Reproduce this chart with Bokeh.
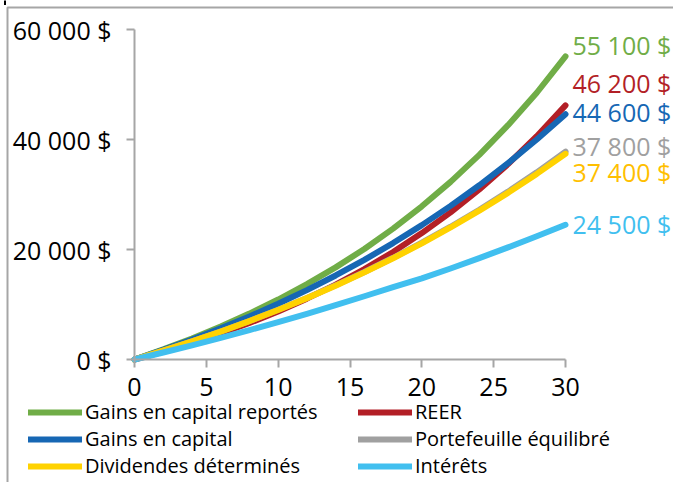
from bokeh.plotting import figure
from bokeh.models import FixedTicker, Legend, LegendItem, Label, BoxAnnotation
from bokeh.embed import file_html
from bokeh.resources import INLINE

# ---- data ----
years = [0, 2, 4, 6, 8, 10, 12, 14, 16, 18, 20, 22, 24, 26, 28, 30]
gains_reportes = [0, 1840, 3830, 6000, 8350, 10900, 13700, 16750, 20100, 23800, 27850, 32300, 37200, 42600, 48500, 55100]
reer = [0, 1425, 2996, 4727, 6637, 8742, 11062, 13621, 16442, 19552, 22981, 26761, 30929, 35524, 40590, 46200]
gains_capital = [0, 1758, 3642, 5659, 7821, 10137, 12617, 15277, 18118, 21170, 24433, 27932, 31680, 35695, 39995, 44600]
portefeuille = [0, 1600, 3295, 5095, 7005, 9035, 11190, 13480, 15910, 18490, 21230, 24140, 27230, 30520, 34030, 37800]
dividendes = [0, 1596, 3288, 5084, 6989, 9011, 11155, 13430, 15843, 18403, 21120, 24002, 27059, 30303, 33744, 37400]
interets = [0, 1267, 2578, 3937, 5347, 6804, 8315, 9880, 11499, 13175, 14750, 16550, 18420, 20380, 22400, 24500]

series_names = ["Gains en capital reportés", "REER", "Gains en capital",
                "Portefeuille équilibré", "Dividendes déterminés", "Intérêts"]
series_values = [gains_reportes, reer, gains_capital, portefeuille, dividendes, interets]
end_labels = ["55 100 $", "46 200 $", "44 600 $", "37 800 $", "37 400 $", "24 500 $"]

x_ticks = [0, 5, 10, 15, 20, 25, 30]
y_ticks = [0, 20000, 40000, 60000]
y_tick_labels = ["0 $", "20 000 $", "40 000 $", "60 000 $"]

# ---- layout / styles ----
W, H = 673, 482
X0_PX, X1_PX = 134, 565      # pixel of x=0 and x=30
Y0_PX, Y1_PX = 359, 29       # pixel of y=0 and y=60000
XMAX, YMAX = 30, 60000
sx = (X1_PX - X0_PX) / XMAX
sy = (Y0_PX - Y1_PX) / YMAX
def px_x(px):
    return (px - X0_PX) / sx
def px_y(py):
    return (Y0_PX - py) / sy

line_colors = ["#70ad47", "#b31f26", "#1667b4", "#a0a0a0", "#ffd200", "#41bfef"]
text_colors = ["#70ad47", "#b31f26", "#1667b4", "#a0a0a0", "#ffbf00", "#41bfef"]
label_dy = [11, 22, 2, 6, -18, 1]
FONT = "Open Sans"
AXIS_GRAY = "#a6a6a6"

p = figure(width=W, height=H, x_range=(px_x(0), px_x(W)), y_range=(px_y(H), px_y(0)),
           output_backend="svg", toolbar_location=None, min_border=0)
p.outline_line_color = None
p.xgrid.visible = False
p.ygrid.visible = False
p.background_fill_color = "white"
p.border_fill_color = "white"

for ax in (p.xaxis[0], p.yaxis[0]):
    ax.fixed_location = 0
    ax.axis_line_color = AXIS_GRAY
    ax.axis_line_width = 2
    ax.major_tick_line_color = AXIS_GRAY
    ax.major_tick_line_width = 2
    ax.major_tick_in = 0
    ax.major_tick_out = 8
    ax.minor_tick_line_color = None
    ax.major_label_text_font = FONT
    ax.major_label_text_font_size = "25px"
    ax.major_label_text_color = "black"

p.xaxis[0].ticker = FixedTicker(ticks=x_ticks)
p.xaxis[0].bounds = (0, XMAX)
p.xaxis[0].major_label_standoff = 10
p.yaxis[0].ticker = FixedTicker(ticks=y_ticks)
p.yaxis[0].bounds = (0, YMAX)
p.yaxis[0].major_label_overrides = {t: s for t, s in zip(y_ticks, y_tick_labels)}
p.yaxis[0].major_label_standoff = 15

# light grey chart-area frame (left and top edges)
p.add_layout(BoxAnnotation(left=px_x(7), right=px_x(W + 10), top=px_y(7), bottom=px_y(H + 10),
                           fill_color=None, fill_alpha=0, line_color=AXIS_GRAY, line_alpha=1,
                           line_width=2))
# small dark mark at the top-left corner
p.add_layout(BoxAnnotation(left=px_x(3.5), right=px_x(5.5), top=px_y(-1), bottom=px_y(4.5),
                           fill_color="black", fill_alpha=1, line_color=None))

renderers = []
for name, vals, col in zip(series_names, series_values, line_colors):
    r = p.line(years, vals, line_color=col, line_width=6, line_cap="round", line_join="round")
    renderers.append(r)

for vals, txt, col, dy in zip(series_values, end_labels, text_colors, label_dy):
    p.add_layout(Label(x=years[-1], y=vals[-1], x_offset=7, y_offset=dy, text=txt,
                       text_color=col, text_font=FONT, text_font_size="25px",
                       text_baseline="middle", text_align="left"))

def make_legend(idx, xloc):
    items = [LegendItem(label=series_names[i], renderers=[renderers[i]]) for i in idx]
    lg = Legend(items=items, location=(xloc, 3), orientation="vertical",
                padding=0, margin=0, spacing=0, glyph_width=54, glyph_height=20,
                label_height=20, label_standoff=3,
                label_text_font=FONT, label_text_font_size="20px", label_text_color="black",
                border_line_color=None, background_fill_alpha=0)
    p.add_layout(lg, "center")

make_legend([0, 2, 4], 28)
make_legend([1, 3, 5], 358)

open("out.html", "w").write(file_html(p, INLINE))
